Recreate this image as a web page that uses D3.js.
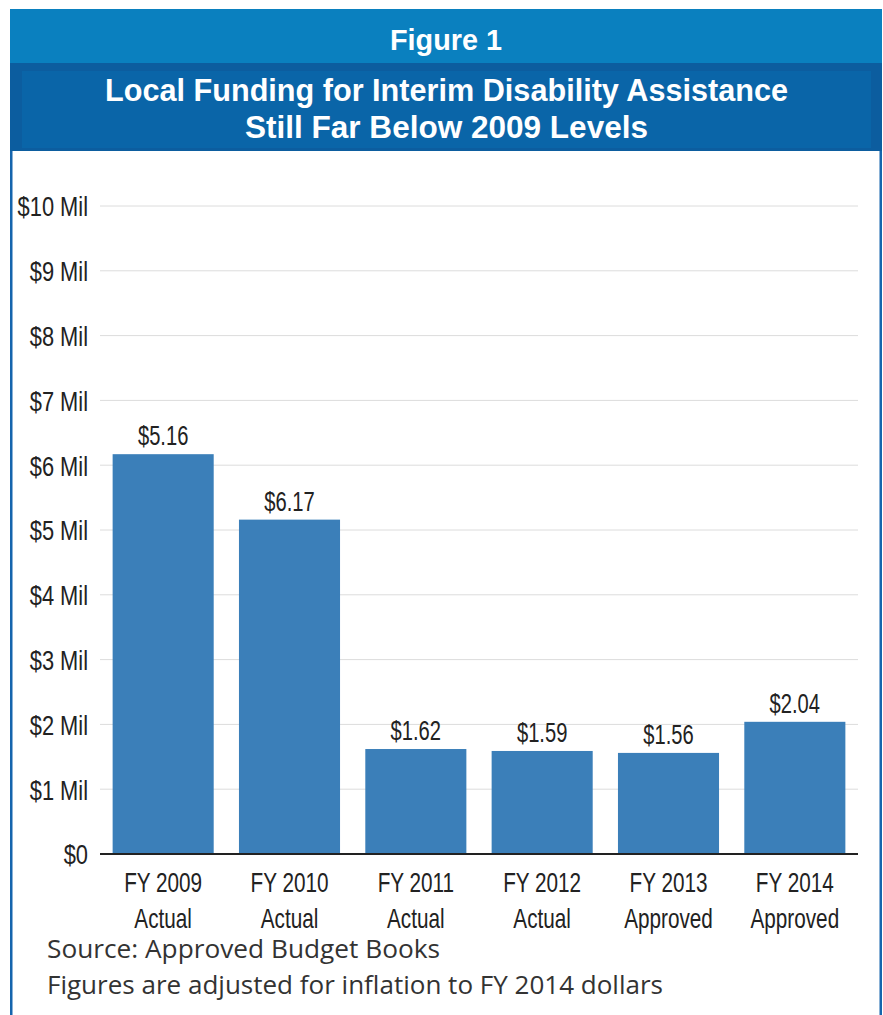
<!DOCTYPE html>
<html>
<head>
<meta charset="utf-8">
<script src="https://cdn.jsdelivr.net/npm/d3@7"></script>
<style>
  html, body { margin: 0; padding: 0; background: #fff; }
  svg { display: block; }
</style>
</head>
<body>
<svg id="chart" width="883" height="1015"></svg>
<script>
// ---- Data ----
const categories = ["FY 2009", "FY 2010", "FY 2011", "FY 2012", "FY 2013", "FY 2014"];
const categoryStatus = ["Actual", "Actual", "Actual", "Actual", "Approved", "Approved"];
const values = [6.17, 5.16, 1.62, 1.59, 1.56, 2.04];           // bar heights, $ millions
const valueLabels = ["$5.16", "$6.17", "$1.62", "$1.59", "$1.56", "$2.04"]; // labels as printed
const yTicks = [0, 1, 2, 3, 4, 5, 6, 7, 8, 9, 10];
const figureLabel = "Figure 1";
const titleLines = ["Local Funding for Interim Disability Assistance", "Still Far Below 2009 Levels"];
const notes = ["Source: Approved Budget Books", "Figures are adjusted for inflation to FY 2014 dollars"];

// ---- Setup ----
const svg = d3.select("#chart");
const W = 883, H = 1015;
const condensed = "'Liberation Sans Narrow', 'Liberation Sans', Arial, sans-serif";
const plain = "'Open Sans', 'Noto Sans', 'Liberation Sans', sans-serif";

function squeeze(sel, factor) {
  sel.each(function () {
    const len = this.getComputedTextLength();
    d3.select(this).attr("textLength", len * factor).attr("lengthAdjust", "spacingAndGlyphs");
  });
}
function fitTo(sel, width) {
  sel.attr("textLength", width).attr("lengthAdjust", "spacingAndGlyphs");
}

// Frame & header
svg.append("rect").attr("x", 10).attr("y", 9).attr("width", 872).attr("height", 54).attr("fill", "#0a80bf");
svg.append("rect").attr("x", 10).attr("y", 63).attr("width", 872).attr("height", 88).attr("fill", "#0c5d9f");
svg.append("rect").attr("x", 22).attr("y", 71).attr("width", 849).attr("height", 77).attr("fill", "#0a65a8");
svg.append("rect").attr("x", 10).attr("y", 151).attr("width", 2.5).attr("height", H - 151).attr("fill", "#1565ad");
svg.append("rect").attr("x", 879.5).attr("y", 151).attr("width", 2.5).attr("height", H - 151).attr("fill", "#1565ad");

svg.append("text").attr("x", 446).attr("y", 50).attr("text-anchor", "middle")
  .attr("fill", "#fff").attr("font-family", condensed).attr("font-weight", "bold").attr("font-size", 30)
  .text(figureLabel).call(fitTo, 112);

const titleY = [101, 138];
const titleW = [683, 403];
titleLines.forEach((t, i) => {
  svg.append("text").attr("x", 446.5).attr("y", titleY[i]).attr("text-anchor", "middle")
    .attr("fill", "#fff").attr("font-family", condensed).attr("font-weight", "bold").attr("font-size", 32)
    .text(t).call(fitTo, titleW[i]);
});

// ---- Scales ----
const x = d3.scaleBand().domain(categories).range([100, 858]).paddingInner(0.2).paddingOuter(0.1);
const y = d3.scaleLinear().domain([0, 10]).range([854, 206]);

// Gridlines
svg.append("g").selectAll("line").data(yTicks.filter(d => d > 0)).join("line")
  .attr("x1", 100).attr("x2", 858)
  .attr("y1", d => y(d)).attr("y2", d => y(d))
  .attr("stroke", "#dcdcdc").attr("stroke-width", 1);

// Y axis labels
const yAxis = svg.append("g").attr("transform", "translate(90,0)")
  .call(d3.axisLeft(y).tickValues(yTicks).tickSize(0).tickPadding(2)
    .tickFormat(d => d === 0 ? "$0" : `$${d} Mil`));
yAxis.select(".domain").remove();
yAxis.selectAll("text").attr("font-family", condensed).attr("font-size", 28).attr("fill", "#222")
  .attr("dy", "0.35em").call(squeeze, 0.78);

// Bars
svg.append("g").selectAll("rect").data(values).join("rect")
  .attr("x", (d, i) => x(categories[i]))
  .attr("width", x.bandwidth())
  .attr("y", d => y(d))
  .attr("height", d => y(0) - y(d))
  .attr("fill", "#3b7fb9");

// Value labels
svg.append("g").selectAll("text").data(values).join("text")
  .attr("x", (d, i) => x(categories[i]) + x.bandwidth() / 2)
  .attr("y", d => y(d) - 9)
  .attr("text-anchor", "middle")
  .attr("font-family", condensed).attr("font-size", 28).attr("fill", "#222")
  .text((d, i) => valueLabels[i]).call(squeeze, 0.72);

// Baseline
svg.append("line").attr("x1", 100).attr("x2", 858).attr("y1", y(0)).attr("y2", y(0))
  .attr("stroke", "#222").attr("stroke-width", 2);

// X labels
const xl = svg.append("g");
categories.forEach((c, i) => {
  const cx = x(c) + x.bandwidth() / 2;
  xl.append("text").attr("x", cx).attr("y", 892).attr("text-anchor", "middle")
    .attr("font-family", condensed).attr("font-size", 28).attr("fill", "#222").text(c);
  xl.append("text").attr("x", cx).attr("y", 928).attr("text-anchor", "middle")
    .attr("font-family", condensed).attr("font-size", 28).attr("fill", "#222").text(categoryStatus[i]);
});
xl.selectAll("text").call(squeeze, 0.74);

// Notes
const noteY = [958, 994];
const noteW = [393, 616];
notes.forEach((t, i) => {
  svg.append("text").attr("x", 47).attr("y", noteY[i])
    .attr("font-family", plain).attr("font-size", 25).attr("fill", "#333")
    .text(t).call(fitTo, noteW[i]);
});
</script>
</body>
</html>
